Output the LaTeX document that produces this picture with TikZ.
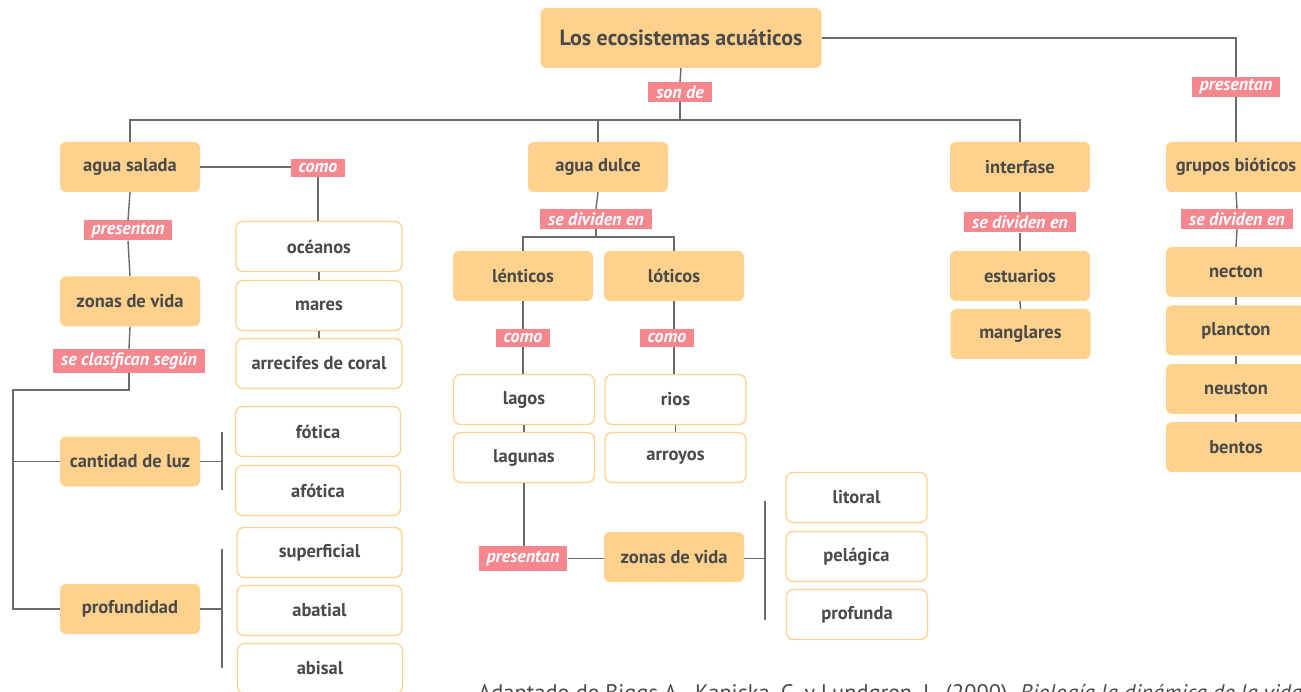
\documentclass[tikz,border=0pt]{standalone}
\usepackage{fontspec}
\setmainfont{PT Sans}
\usetikzlibrary{positioning}
\definecolor{naranja}{HTML}{FED28C}
\definecolor{rosa}{HTML}{F7878F}
\definecolor{texto}{HTML}{4A4A4A}
\definecolor{linea}{HTML}{6A6A6A}

\begin{document}
\begin{tikzpicture}[x=1pt,y=-1pt,
	concepto/.style={fill=naranja,rounded corners=6pt,minimum width=140pt,minimum height=50pt,inner sep=0pt,text=texto,font=\fontsize{18.5}{20}\selectfont\bfseries},
	ejemplo/.style={draw=naranja,line width=1.3pt,fill=white,rounded corners=7pt,minimum width=165pt,minimum height=50pt,inner sep=0pt,text=texto,font=\fontsize{18.5}{20}\selectfont\bfseries},
	enlace/.style={fill=rosa,text=white,inner xsep=8pt,inner ysep=0pt,minimum height=20pt,font=\fontsize{18}{19}\selectfont\bfseries\itshape},
	conector/.style={draw=linea,line width=1.4pt}]
	\useasboundingbox (0,0) rectangle (1301,692);
	% nodos principales
	\node[concepto,minimum width=281pt,minimum height=60pt,font=\fontsize{22}{24}\selectfont\bfseries] (titulo) at (681,38) {Los ecosistemas acuáticos};
	\node[enlace] (sonde) at (680,92) {son de};
	\coordinate (bus) at (680,120);
	\node[concepto] (salada) at (130,167) {agua salada};
	\node[concepto] (dulce) at (598,167) {agua dulce};
	\node[concepto] (interfase) at (1020,167) {interfase};
	\node[concepto] (grupos) at (1236,167) {grupos bióticos};
	\node[enlace] (presentanG) at (1236,87) {presentan};
	% agua salada
	\node[enlace,minimum height=18pt] (como1) at (318,168) {como};
	\node[ejemplo,minimum width=166pt] (oceanos) at (319,246.5) {océanos};
	\node[ejemplo,minimum width=166pt] (mares) at (319,305.5) {mares};
	\node[ejemplo,minimum width=166pt] (arrecifes) at (319,363.5) {arrecifes de coral};
	\node[enlace] (presentanS) at (128,230.5) {presentan};
	\node[concepto] (zonasS) at (130,301.5) {zonas de vida};
	\node[enlace,minimum height=24pt] (clasifican) at (129,361) {se clasifican según};
	\coordinate (izq) at (13,390);
	\node[concepto] (luz) at (130,461.5) {cantidad de luz};
	\node[concepto] (profundidad) at (130,609) {profundidad};
	\node[ejemplo] (fotica) at (318,431.5) {fótica};
	\node[ejemplo] (afotica) at (318,490.5) {afótica};
	\node[ejemplo] (superficial) at (319.5,552.5) {superficial};
	\node[ejemplo] (abatial) at (319.5,610.5) {abatial};
	\node[ejemplo] (abisal) at (320,668.5) {abisal};
	\coordinate (llaveL1) at (222,432);
	\coordinate (llaveL2) at (222,490);
	\coordinate (llaveP1) at (222,549);
	\coordinate (llaveP2) at (222,668);
	% agua dulce
	\node[enlace] (dividenD) at (596,219) {se dividen en};
	\coordinate (busD) at (596,237);
	\node[concepto] (lenticos) at (523,276) {lénticos};
	\node[concepto] (loticos) at (674,276) {lóticos};
	\node[enlace,minimum height=18pt] (comoL) at (523,338) {como};
	\node[enlace,minimum height=18pt] (comoT) at (667,338) {como};
	\node[ejemplo,minimum width=141pt] (lagos) at (524,399.5) {lagos};
	\node[ejemplo,minimum width=141pt] (lagunas) at (524,457.5) {lagunas};
	\node[ejemplo,minimum width=141pt] (rios) at (675.5,399.5) {rios};
	\node[ejemplo,minimum width=141pt] (arroyos) at (675.5,457.5) {arroyos};
	\node[enlace,minimum height=25pt] (presentanD) at (523,558.5) {presentan};
	\node[concepto] (zonasD) at (674,557) {zonas de vida};
	\node[ejemplo,minimum width=141pt] (litoral) at (856.5,497.5) {litoral};
	\node[ejemplo,minimum width=141pt] (pelagica) at (856.5,556.5) {pelágica};
	\node[ejemplo,minimum width=141pt] (profunda) at (857,614.5) {profunda};
	\coordinate (llaveZ1) at (765,501);
	\coordinate (llaveZ2) at (765,620);
	% interfase
	\node[enlace] (dividenI) at (1020,222.5) {se dividen en};
	\node[concepto] (estuarios) at (1020,276) {estuarios};
	\node[concepto] (manglares) at (1020.5,334) {manglares};
	% grupos bioticos
	\node[enlace] (dividenG) at (1237,219) {se dividen en};
	\node[concepto] (necton) at (1236,272) {necton};
	\node[concepto] (plancton) at (1236,330.5) {plancton};
	\node[concepto] (neuston) at (1236,389) {neuston};
	\node[concepto] (bentos) at (1236,447) {bentos};
	% fuente
	\node[anchor=base west,inner sep=0pt,text=texto,font=\fontsize{22.5}{24}\selectfont] (fuente) at (478,700) {Adaptado de Biggs A., Kapicka, C. y Lundgren, L. (2000). \textit{Biología la dinámica de la vida}};
	% conectores
	\draw[conector] (titulo.east) -| (presentanG.north);
	\draw[conector] (presentanG.south) -- (grupos.north);
	\draw[conector] (titulo.south) -- (sonde.north);
	\draw[conector] (sonde.south) -- (bus);
	\draw[conector] (salada.north) |- (bus) -| (interfase.north);
	\draw[conector] (dulce.north) -- (dulce.north |- bus);
	\draw[conector] (salada.east) -- (salada.east -| como1.west);
	\draw[conector] (como1.south) -- (como1.south |- oceanos.north);
	\draw[conector] (oceanos.south) -- (mares.north);
	\draw[conector] (mares.south) -- (arrecifes.north);
	\draw[conector] (salada.south) -- (presentanS.north);
	\draw[conector] (presentanS.south) -- (zonasS.north);
	\draw[conector] (zonasS.south) -- (clasifican.north);
	\draw[conector] (clasifican.south) |- (izq) |- (profundidad.west);
	\draw[conector] (izq |- luz.west) -- (luz.west);
	\draw[conector] (luz.east) -- (luz.east -| llaveL1);
	\draw[conector] (llaveL1) -- (llaveL2);
	\draw[conector] (profundidad.east) -- (profundidad.east -| llaveP1);
	\draw[conector] (llaveP1) -- (llaveP2);
	\draw[conector] (dulce.south) -- (dividenD.north);
	\draw[conector] (dividenD.south) -- (busD);
	\draw[conector] (lenticos.north) |- (busD) -| (loticos.north);
	\draw[conector] (lenticos.south) -- (comoL.north);
	\draw[conector] (comoL.south) -- (comoL.south |- lagos.north);
	\draw[conector] (lagos.south) -- (lagunas.north);
	\draw[conector] (loticos.south) -- (loticos.south |- comoT.north);
	\draw[conector] (loticos.south |- comoT.south) -- (loticos.south |- rios.north);
	\draw[conector] (rios.south) -- (arroyos.north);
	\draw[conector] (lagunas.south) -- (lagunas.south |- presentanD.north);
	\draw[conector] (presentanD.east) -- (presentanD.east -| zonasD.west);
	\draw[conector] (zonasD.east |- presentanD.east) -- (llaveZ1 |- presentanD.east);
	\draw[conector] (llaveZ1) -- (llaveZ2);
	\draw[conector] (interfase.south) -- (dividenI.north);
	\draw[conector] (dividenI.south) -- (estuarios.north);
	\draw[conector] (estuarios.south) -- (manglares.north);
	\draw[conector] (grupos.south) -- (dividenG.north);
	\draw[conector] (dividenG.south) -- (necton.north);
	\draw[conector] (necton.south) -- (plancton.north);
	\draw[conector] (plancton.south) -- (neuston.north);
	\draw[conector] (neuston.south) -- (bentos.north);
\end{tikzpicture}
\end{document}
